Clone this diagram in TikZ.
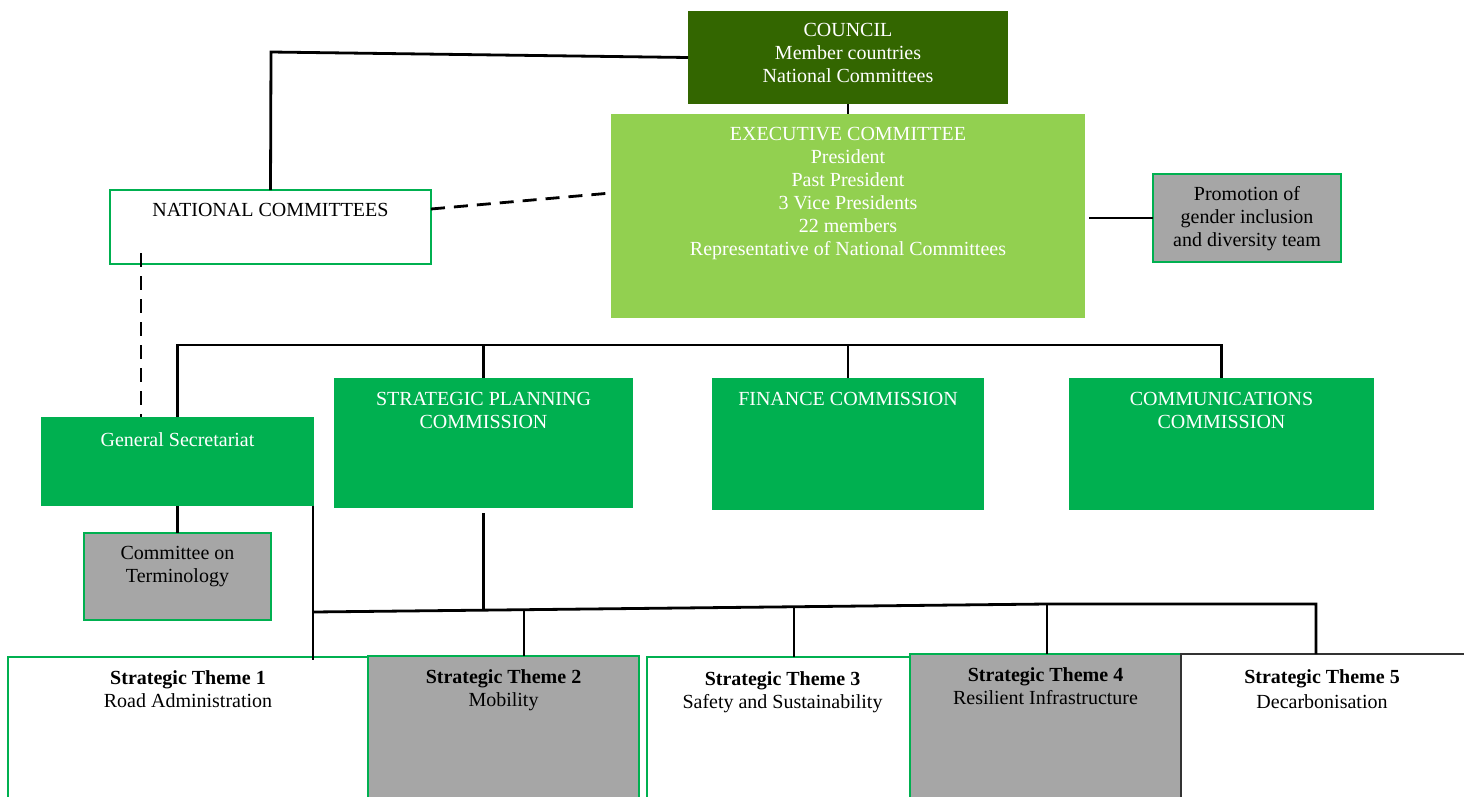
\documentclass[tikz,border=0pt]{standalone}
\usepackage{fontspec}
\setmainfont{Liberation Serif}
\usetikzlibrary{calc}
\definecolor{council}{HTML}{336600}
\definecolor{execgreen}{HTML}{92D050}
\definecolor{commgreen}{HTML}{00B050}
\definecolor{teamgray}{HTML}{A6A6A6}
\tikzset{%
  orgbox/.style={anchor=north west,inner sep=0pt,outer sep=0pt},
  boxtext/.style={anchor=north,inner sep=0pt,align=center,
    font=\fontsize{20}{23}\selectfont},
  conn/.style={line width=2.8pt},
  dashconn/.style={line width=2.8pt,dash pattern=on 14pt off 9pt},
  framed/.style={draw=commgreen,line width=1.6pt}}

\begin{document}
\begin{tikzpicture}[x=1pt,y=-1pt]
  \useasboundingbox (0,0) rectangle (1464,796);
  % top level
  \node[orgbox,fill=council,minimum width=320,minimum height=93] (council) at (688,11) {};
  \node[boxtext,text=white] (councilt) at ([yshift=-12pt]council.north) {COUNCIL\\Member countries\\National Committees};
  \node[orgbox,fill=execgreen,minimum width=474,minimum height=204] (exec) at (611,114) {};
  \node[boxtext,text=white] (exect) at ([yshift=-13pt]exec.north) {EXECUTIVE COMMITTEE\\President\\Past President\\3 Vice Presidents\\22 members\\Representative of National Committees};
  \node[orgbox,framed,fill=white,minimum width=321,minimum height=74] (natcom) at (110,190) {};
  \node[boxtext] (natcomt) at ([yshift=-13pt]natcom.north) {NATIONAL COMMITTEES};
  \node[orgbox,framed,fill=teamgray,minimum width=188,minimum height=88] (promo) at (1153,174) {};
  \node[boxtext] (promot) at ([yshift=-12pt]promo.north) {Promotion of\\gender inclusion\\and diversity team};
  % commissions
  \node[orgbox,fill=commgreen,minimum width=273,minimum height=89] (gensec) at (41,417) {};
  \node[boxtext,text=white] (gensect) at ([yshift=-15pt]gensec.north) {General Secretariat};
  \node[orgbox,fill=commgreen,minimum width=299,minimum height=130] (spc) at (334,378) {};
  \node[boxtext,text=white] (spct) at ([yshift=-14pt]spc.north) {STRATEGIC PLANNING\\COMMISSION};
  \node[orgbox,fill=commgreen,minimum width=272,minimum height=132] (finance) at (712,378) {};
  \node[boxtext,text=white] (financet) at ([yshift=-14pt]finance.north) {FINANCE COMMISSION};
  \node[orgbox,fill=commgreen,minimum width=305,minimum height=132] (comm) at (1069,378) {};
  \node[boxtext,text=white] (commt) at ([yshift=-14pt]comm.north) {COMMUNICATIONS\\COMMISSION};
  \node[orgbox,framed,fill=teamgray,minimum width=187,minimum height=87] (term) at (84,533) {};
  \node[boxtext] (termt) at ([yshift=-13pt]term.north) {Committee on\\Terminology};
  % strategic themes
  \node[orgbox,framed,fill=white,minimum width=360,minimum height=180] (theme1) at (8,657) {};
  \node[boxtext] (theme1t) at ([yshift=-13pt]theme1.north) {\textbf{Strategic Theme 1}\\Road Administration};
  \node[orgbox,framed,fill=teamgray,minimum width=271,minimum height=180] (theme2) at (368,656) {};
  \node[boxtext] (theme2t) at ([yshift=-13pt]theme2.north) {\textbf{Strategic Theme 2}\\Mobility};
  \node[orgbox,framed,fill=white,minimum width=263,minimum height=180] (theme3) at (647,657) {};
  \node[boxtext] (theme3t) at ([xshift=4pt,yshift=-14pt]theme3.north) {\textbf{Strategic Theme 3}\\Safety and Sustainability};
  \node[orgbox,framed,fill=teamgray,minimum width=271,minimum height=180] (theme4) at (910,654) {};
  \node[boxtext] (theme4t) at ([yshift=-13pt]theme4.north) {\textbf{Strategic Theme 4}\\Resilient Infrastructure};
  \node[orgbox,draw=black!80,line width=1.6pt,fill=white,minimum width=290,minimum height=180] (theme5) at (1181,654) {};
  \node[boxtext,font=\fontsize{20}{25}\selectfont] (theme5t) at ([xshift=-4pt,yshift=-15pt]theme5.north) {\textbf{Strategic Theme 5}\\Decarbonisation};
  % connectors
  \coordinate (ncbend) at (271,52);
  \coordinate (ncdash) at (141,253);
  \coordinate (busa) at (178,345);
  \coordinate (tbus) at (313,612);
  \coordinate (tbusr) at (1047,604);
  \coordinate (tap2) at (524,610);
  \coordinate (tap3) at (794,607);
  \coordinate (tap5) at (1316,604);
  \draw[conn] (council.west) -- (ncbend) -- (natcom.north);
  \draw[conn] (council.south) -- (exec.north);
  \draw[dashconn] ([yshift=18pt]natcom.east) -- ([yshift=23pt]exec.west);
  \draw[dashconn] (ncdash) -- (ncdash |- gensec.north);
  \draw[conn] ([xshift=4pt]promo.west -| exec.east) -- (promo.west);
  \draw[conn] (gensec.north) -- (gensec.north |- busa) -- (busa -| comm.north) -- (comm.north);
  \draw[conn] (spc.north) -- (spc.north |- busa);
  \draw[conn] (finance.north) -- (finance.north |- busa);
  \draw[conn] (gensec.south) -- (term.north);
  \draw[conn] ([xshift=-1pt]gensec.south east) -- ([xshift=-1pt,yshift=-3pt]gensec.south east |- theme1.north);
  \draw[conn] ([yshift=-5pt]spc.south) -- ($(spc.south |- tbus)+(0,-3)$);
  \draw[conn] (tbus) -- (tbusr) -- (tap5) -- (tap5 |- theme5.north);
  \draw[conn] (tap2) -- (tap2 |- theme2.north);
  \draw[conn] (tap3) -- (tap3 |- theme3.north);
  \draw[conn] (tbusr) -- (tbusr |- theme4.north);
\end{tikzpicture}
\end{document}
